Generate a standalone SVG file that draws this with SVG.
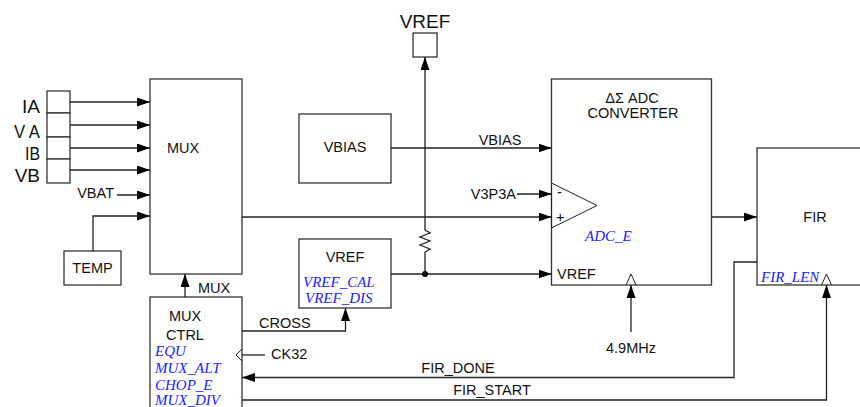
<svg xmlns="http://www.w3.org/2000/svg" width="860" height="407" viewBox="0 0 860 407">
<defs>
<style>
.box{fill:#fff;stroke:#333;stroke-width:1.3}
.ln{fill:none;stroke:#222;stroke-width:1.3}
.thin{fill:none;stroke:#222;stroke-width:1}
.t{font-family:"Liberation Sans",Arial,sans-serif;font-size:14.5px;fill:#111}
.big{font-family:"Liberation Sans",Arial,sans-serif;font-size:19px;fill:#111}
.b{font-family:"Liberation Serif","Times New Roman",serif;font-style:italic;font-size:15px;fill:#2222ff}
.m{text-anchor:middle}
.e{text-anchor:end}
</style>
<marker id="ar" markerWidth="13" markerHeight="10" refX="13" refY="4.5" orient="auto" markerUnits="userSpaceOnUse">
<path d="M0,0 L13,4.5 L0,9 z" fill="#000"/>
</marker>
</defs>
<rect width="860" height="407" fill="#fff"/>

<g id="inputs">
<rect class="box" x="47" y="91" width="23" height="22"/>
<rect class="box" x="47" y="113" width="23" height="24"/>
<rect class="box" x="47" y="137" width="23" height="22"/>
<rect class="box" x="47" y="159" width="23" height="24"/>
<text class="big e" x="40" y="113">IA</text>
<text class="big e" x="40" y="138" textLength="26" lengthAdjust="spacingAndGlyphs">V A</text>
<text class="big e" x="40" y="160" textLength="15" lengthAdjust="spacingAndGlyphs">IB</text>
<text class="big e" x="40" y="182">VB</text>
<text class="t e" x="114" y="198">VBAT</text>
</g>

<g id="mux">
<rect class="box" x="150" y="79" width="92" height="195"/>
<text class="t" x="167" y="153">MUX</text>
</g>

<g id="temp">
<rect class="box" x="64" y="251" width="57" height="34"/>
<text class="t m" x="92.5" y="273">TEMP</text>
</g>

<g id="muxctrl">
<rect class="box" x="150" y="297" width="92" height="120"/>
<text class="t m" x="185" y="321">MUX</text>
<text class="t m" x="185" y="340">CTRL</text>
<text class="b" x="155" y="356">EQU</text>
<text class="b" x="155" y="373">MUX_ALT</text>
<text class="b" x="155" y="390">CHOP_E</text>
<text class="b" x="155" y="405">MUX_DIV</text>
<polyline class="thin" points="242,349 236,355 242,361"/>
</g>

<g id="vbias">
<rect class="box" x="299" y="114" width="92" height="69"/>
<text class="t m" x="345" y="152">VBIAS</text>
</g>

<g id="vref">
<rect class="box" x="299" y="239" width="92" height="69"/>
<text class="t m" x="345" y="262">VREF</text>
<text class="b" x="303" y="287">VREF_CAL</text>
<text class="b" x="305" y="303">VREF_DIS</text>
</g>

<g id="vrefpin">
<rect class="box" x="413" y="33" width="24" height="24"/>
<text class="big m" x="425" y="28">VREF</text>
</g>

<g id="adc">
<rect class="box" x="551.5" y="79" width="160" height="206"/>
<text class="t m" x="632" y="103">ΔΣ ADC</text>
<text class="t m" x="633" y="118">CONVERTER</text>
<polygon class="thin" points="551.5,183 597,205.5 551.5,228" fill="#fff"/>
<text class="t" x="557" y="197" font-size="13">-</text>
<text class="t" x="556" y="222">+</text>
<text class="b" x="585" y="241">ADC_E</text>
<text class="t" x="557" y="279">VREF</text>
<polyline class="thin" points="626,285 631,274 636,285"/>
</g>

<g id="fir">
<rect class="box" x="757" y="148" width="120" height="137"/>
<text class="t m" x="815" y="222">FIR</text>
<text class="b" x="761" y="282">FIR_LEN</text>
<polyline class="thin" points="821.5,285 826.5,274 831.5,285"/>
</g>

<g id="connectors">
<line class="ln" x1="70" y1="102" x2="150" y2="102" marker-end="url(#ar)"/>
<line class="ln" x1="70" y1="125" x2="150" y2="125" marker-end="url(#ar)"/>
<line class="ln" x1="70" y1="148" x2="150" y2="148" marker-end="url(#ar)"/>
<line class="ln" x1="70" y1="170" x2="150" y2="170" marker-end="url(#ar)"/>
<line class="ln" x1="117" y1="195" x2="150" y2="195" marker-end="url(#ar)"/>
<polyline class="ln" points="93,251 93,216 150,216" marker-end="url(#ar)"/>
<line class="ln" x1="185" y1="297" x2="185" y2="274" marker-end="url(#ar)"/>
<text class="t" x="198" y="293">MUX</text>
<polyline class="ln" points="242,331 345.5,331 345.5,308" marker-end="url(#ar)"/>
<text class="t" x="259" y="328">CROSS</text>
<line class="ln" x1="265" y1="355" x2="242" y2="355"/>
<text class="t" x="271" y="359">CK32</text>
<line class="ln" x1="242" y1="217" x2="551.5" y2="217" marker-end="url(#ar)"/>
<line class="ln" x1="391" y1="148" x2="551.5" y2="148" marker-end="url(#ar)"/>
<text class="t m" x="500" y="145">VBIAS</text>
<line class="ln" x1="517" y1="194" x2="551.5" y2="194" marker-end="url(#ar)"/>
<text class="t e" x="516" y="199">V3P3A</text>
<line class="ln" x1="391" y1="274" x2="551.5" y2="274" marker-end="url(#ar)"/>
<circle cx="425" cy="274" r="3" fill="#000"/>
<polyline class="ln" points="425,274 425,252 430,249 420,245 430,241 420,237 430,233 425,230 425,57" marker-end="url(#ar)"/>
<line class="ln" x1="631" y1="332" x2="631" y2="285" marker-end="url(#ar)"/>
<text class="t m" x="631" y="353">4.9MHz</text>
<line class="ln" x1="711.5" y1="217" x2="757" y2="217" marker-end="url(#ar)"/>
<polyline class="ln" points="757,262 734,262 734,377.5 242,377.5" marker-end="url(#ar)"/>
<text class="t m" x="458" y="373">FIR_DONE</text>
<polyline class="ln" points="242,400 826.5,400 826.5,285" marker-end="url(#ar)"/>
<text class="t m" x="492" y="395">FIR_START</text>
</g>
</svg>
